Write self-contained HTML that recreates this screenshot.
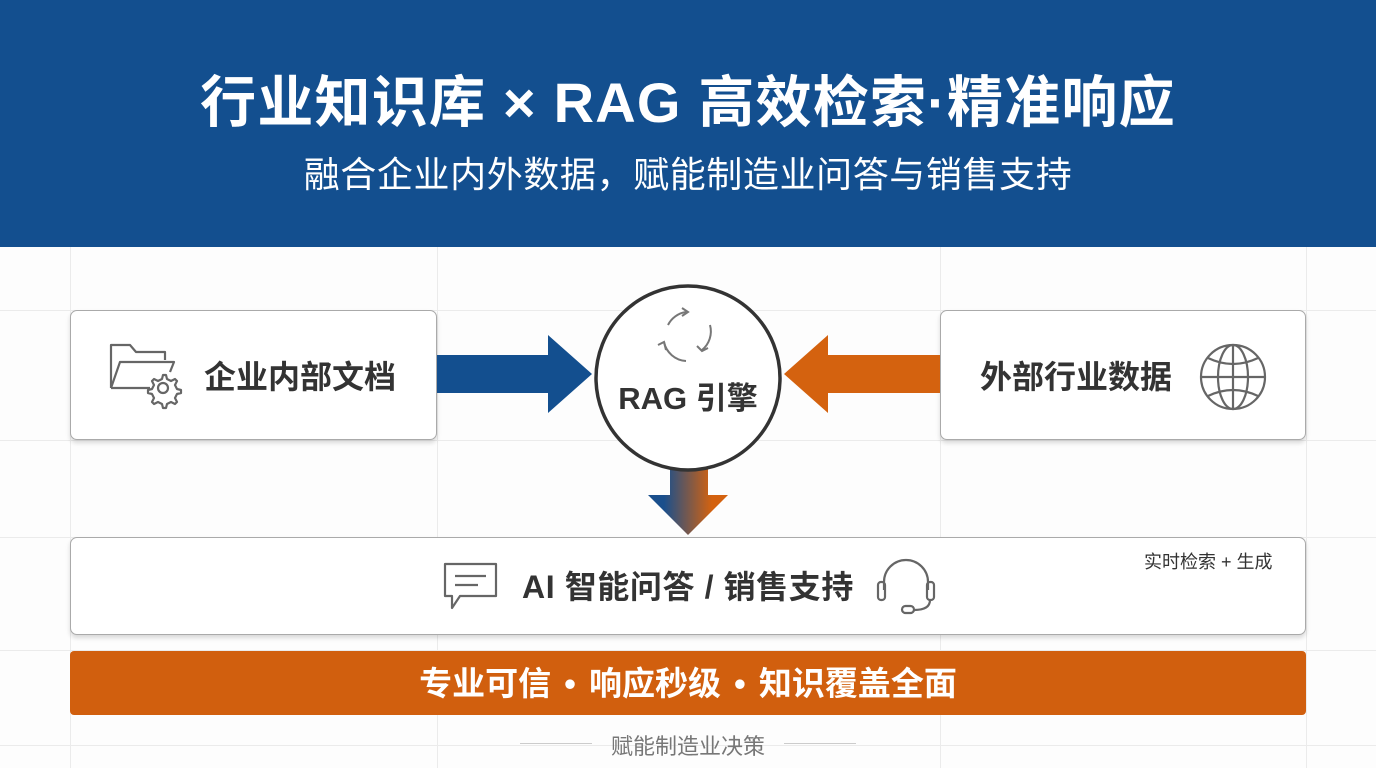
<!DOCTYPE html>
<html><head><meta charset="utf-8">
<style>
body{margin:0;width:1376px;height:768px;overflow:hidden;background:#fdfdfd;font-family:"Liberation Sans","Noto Sans CJK SC",sans-serif;position:relative}
.hdr{position:absolute;left:0;top:0;width:1376px;height:247px;background:#134f8f}
.t1{position:absolute;left:0;width:1376px;top:66px;text-align:center;color:#fff;font-weight:bold;font-size:56px;line-height:74px;letter-spacing:1.2px}
.t2{position:absolute;left:0;width:1376px;top:151px;text-align:center;color:#fff;font-size:36px;line-height:48px;letter-spacing:0.6px}
.vl{position:absolute;top:247px;height:521px;width:1px;background:#ebebeb}
.hl{position:absolute;left:0;width:1376px;height:1px;background:#ebebeb}
.box{position:absolute;background:#fff;border:1.5px solid #aaa;border-radius:7px;box-shadow:0 3px 5px rgba(0,0,0,.15);box-sizing:border-box}
.lbl{position:absolute;font-weight:bold;color:#333;font-size:32px;line-height:40px;white-space:nowrap}
</style></head><body>
<div class="hdr"></div>
<div class="t1">行业知识库 × RAG 高效检索·精准响应</div>
<div class="t2">融合企业内外数据，赋能制造业问答与销售支持</div>
<div class="vl" style="left:70px"></div><div class="vl" style="left:437px"></div><div class="vl" style="left:940px"></div><div class="vl" style="left:1306px"></div>
<div class="hl" style="top:310px"></div><div class="hl" style="top:440px"></div><div class="hl" style="top:537px"></div><div class="hl" style="top:650px"></div><div class="hl" style="top:745px"></div>

<div class="box" style="left:70px;top:310px;width:367px;height:130px"></div>
<div class="lbl" style="left:204px;top:357px">企业内部文档</div>
<svg style="position:absolute;left:108px;top:340px" width="75" height="70" viewBox="0 0 75 70" fill="none" stroke="#666" stroke-width="2.2" stroke-linejoin="round">
<path d="M3 48 V5 H22 L28 12 H57 V20"/><path d="M3 48 L12 22 H66 L62 32"/><path d="M3 48 H42"/>
<circle cx="55" cy="48" r="5"/><path d="M55 35 l3 0 1 4 4 2 4-2 2 2-2 4 2 4 4 1 0 3-4 1-2 4 2 4-2 2-4-2-4 2-1 4h-3l-1-4-4-2-4 2-2-2 2-4-2-4-4-1v-3l4-1 2-4-2-4 2-2 4 2 4-2z"/>
</svg>

<div class="box" style="left:940px;top:310px;width:366px;height:130px"></div>
<div class="lbl" style="left:980px;top:357px">外部行业数据</div>
<svg style="position:absolute;left:1198px;top:342px" width="70" height="70" viewBox="0 0 70 70" fill="none" stroke="#666" stroke-width="2.2">
<circle cx="35" cy="35" r="32"/><ellipse cx="35" cy="35" rx="15" ry="32"/><line x1="35" y1="3" x2="35" y2="67"/><line x1="3" y1="35" x2="67" y2="35"/><path d="M10 16 Q35 28 60 16"/><path d="M10 54 Q35 42 60 54"/>
</svg>

<svg style="position:absolute;left:0;top:0" width="1376" height="768">
<defs><linearGradient id="g" x1="0" x2="1"><stop offset="0.2" stop-color="#1a4f8c"/><stop offset="0.8" stop-color="#d4620f"/></linearGradient></defs>
<polygon points="437,355 548,355 548,335 592,374 548,413 548,393 437,393" fill="#134f8f"/>
<polygon points="940,355 828,355 828,335 784,374 828,413 828,393 940,393" fill="#d4620f"/>
<polygon points="670,465 708,465 708,495 728,495 688,535 648,495 670,495" fill="url(#g)"/>
<circle cx="688" cy="378" r="92" fill="#fff" stroke="#333" stroke-width="3.5"/>
<g fill="none" stroke="#777" stroke-width="2">
<path d="M668 325 A24 24 0 0 1 686 312"/><path d="M682 308 l6 4 -6 4"/>
<path d="M710 325 A24 24 0 0 1 702 350"/><path d="M697 346 l5 5 6 -3"/>
<path d="M686 361 A24 24 0 0 1 664 342"/><path d="M666 350 l-2 -8 -6 3"/>
</g>
<text x="688" y="409" text-anchor="middle" font-family="Liberation Sans,Noto Sans CJK SC,sans-serif" font-weight="bold" font-size="31" fill="#333">RAG 引擎</text>
</svg>

<div class="box" style="left:70px;top:537px;width:1236px;height:98px"></div>
<div class="lbl" style="left:522px;top:567px;letter-spacing:0.6px">AI 智能问答 / 销售支持</div>
<div style="position:absolute;left:1144px;top:548px;font-size:18px;color:#333">实时检索 + 生成</div>
<svg style="position:absolute;left:440px;top:560px" width="60" height="55" viewBox="0 0 60 55" fill="none" stroke="#666" stroke-width="2.2" stroke-linejoin="round">
<path d="M5 4 H56 V36 H20 L12 48 V36 H5 Z"/><line x1="15" y1="16" x2="46" y2="16"/><line x1="15" y1="25" x2="38" y2="25"/>
</svg>
<svg style="position:absolute;left:874px;top:556px" width="64" height="62" viewBox="0 0 64 62" fill="none" stroke="#666" stroke-width="2.2">
<path d="M10 34 V26 A22 22 0 0 1 54 26 V34"/><rect x="4" y="26" width="7" height="18" rx="3"/><rect x="53" y="26" width="7" height="18" rx="3"/><path d="M56 44 Q56 54 40 54"/><rect x="28" y="50" width="12" height="7" rx="3.5"/>
</svg>

<div style="position:absolute;left:70px;top:651px;width:1236px;height:64px;background:#d15f0e;border-radius:4px;color:#fff;font-weight:bold;font-size:33px;line-height:66px;text-align:center;word-spacing:4px">专业可信 • 响应秒级 • 知识覆盖全面</div>

<div style="position:absolute;left:0;width:1376px;top:729px;text-align:center;font-size:22px;color:#777">赋能制造业决策</div>
<div style="position:absolute;left:520px;top:743px;width:72px;height:1px;background:#ccc"></div>
<div style="position:absolute;left:784px;top:743px;width:72px;height:1px;background:#ccc"></div>
</body></html>
